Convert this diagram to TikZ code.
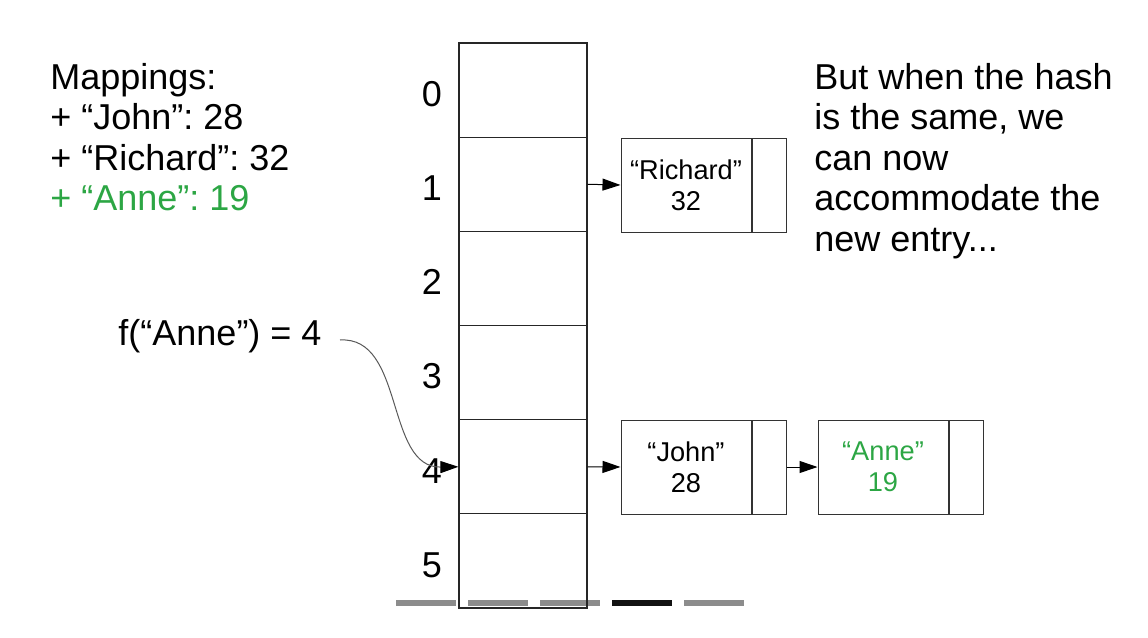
\documentclass[tikz,border=0pt]{standalone}
\usepackage{fontspec}
\setmainfont{Liberation Sans}
\usetikzlibrary{arrows.meta}
\definecolor{annegreen}{HTML}{2CA644}
\frenchspacing
\begin{document}
\begin{tikzpicture}[x=0.5pt,y=-0.5pt,
    cell/.style={draw=black!85,line width=0.6pt,minimum width=64pt,minimum height=47.1pt,inner sep=0pt},
    entry/.style={draw=black!80,line width=0.5pt,minimum width=65pt,minimum height=47pt,inner sep=0pt,align=center,font=\fontsize{13.6}{15.5}\selectfont},
    ptr/.style={draw=black!80,line width=0.5pt,minimum width=17pt,minimum height=47pt,inner sep=0pt},
    big/.style={font=\fontsize{18}{20.25}\selectfont,inner sep=0pt},
    arr/.style={-{Triangle[length=9pt,width=6pt]},line width=0.5pt}]
  \useasboundingbox (0,0) rectangle (1148,638);
  % slide bars
  \foreach \x/\c in {396/black!45,468/black!45,540/black!45,612/black!93,684/black!45}
    \draw[line width=3pt,\c](\x,603)--++(60,0);
  % table
  \foreach \i in {0,...,5}{
    \node[cell](c\i) at (523,90.1+94.17*\i){};
    \node[big](i\i) at (432,94+94.17*\i){\i};
  }
  % chains
  \node[entry](rich) at (686,185){“Richard”\\32};
  \node[ptr,anchor=west](richp) at (rich.east){};
  \node[entry](john) at (686,467){“John”\\28};
  \node[ptr,anchor=west](johnp) at (john.east){};
  \node[entry,text=annegreen](anne) at (883,467){“Anne”\\19};
  \node[ptr,anchor=west](annep) at (anne.east){};
  \draw[arr](c1.east)--(rich.west);
  \draw[arr](c4.east)--(john.west);
  \draw[arr](johnp.east)--(anne.west);
  % hash of the new key
  \node[big](fanne) at (220,336){f(“Anne”) = 4};
  \coordinate(fsrc) at (340,340);
  \draw[black!65,line width=0.5pt,-{Triangle[length=9pt,width=6pt,color=black]}](fsrc)..controls(405,336)and(385,468)..(c4.west);
  % texts
  \node[big,align=left,anchor=north west](maps) at (50,63){Mappings:\\+ “John”: 28\\+ “Richard”: 32\\\textcolor{annegreen}{+ “Anne”: 19}};
  \node[big,align=left,anchor=north west](note) at (814,63){But when the hash\\is the same, we\\can now\\accommodate the\\new entry...};
\end{tikzpicture}
\end{document}
